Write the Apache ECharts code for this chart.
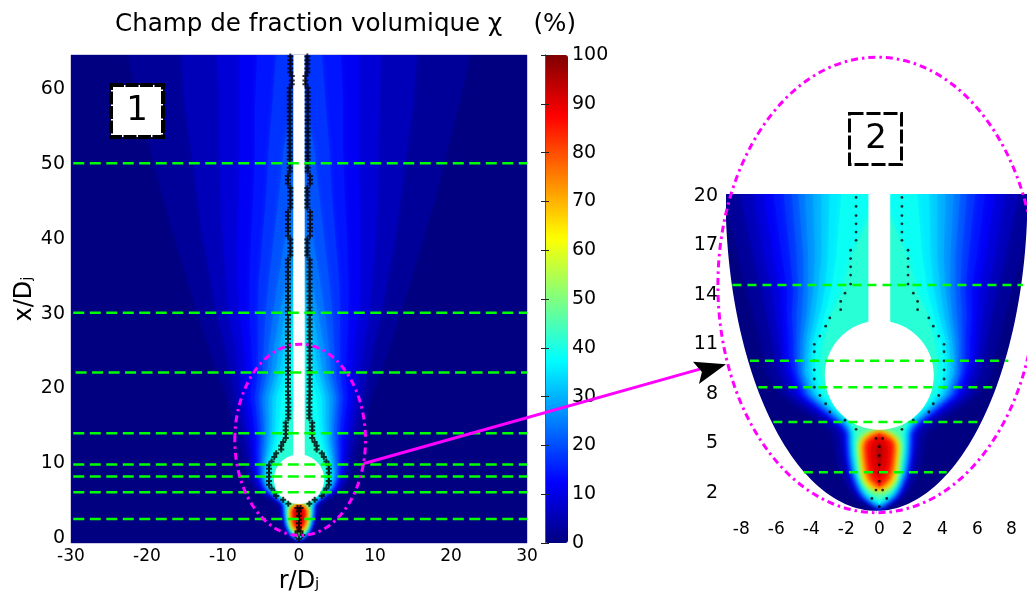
<!DOCTYPE html>
<html><head><meta charset="utf-8">
<style>html,body{margin:0;padding:0;background:#fff}#c{width:1027px;height:594px}</style>
<script src="https://cdn.jsdelivr.net/npm/echarts@6/dist/echarts.min.js"></script>
</head><body><div id="c"></div>
<script>
// ---- colour scale (jet) and colour-bar ticks
var jetStops = ['#000080','#0000ff','#0080ff','#00ffff','#80ff80','#ffff00','#ff8000','#ff0000','#800000'];
// ---- tick labels
var leftXTicks = [-30,-20,-10,0,10,20,30];
var leftYTicks = [0,10,20,30,40,50,60];
var rightXLabels = ['-8','-6','-4','-2','0','2','4','6','8'];
var rightXAt = [-8.36,-6.24,-4.12,-2.0,0,1.7,3.82,5.94,8.0];
var rightYLabels = ['2','5','8','11','14','17','20'];
var rightYAt = [0.69,3.69,6.69,9.69,12.69,15.69,18.69];
// ---- iso-contour half widths of the field chi
var plumeLevels = [2,5,8,11,14,17,20,23,26,29,32,35,38,41,44];
var plumeRows = [-0.7,0,0.3,0.7,1.2,2,3,3.8,4.4,5,5.6,6.7,8,9,10,11.5,13,15,18.8,22,26,30,34,40,46,52,58,64.8];
var plumeWidths = [
 [0,0,0,0,0,0,0,0,0,0,0,0,0,0,0],
 [.6,.3,.1,0,0,0,0,0,0,0,0,0,0,0,0],
 [1.3,1,.85,.75,.65,.6,.55,.5,.45,.4,.3,.2,.1,0,0],
 [1.7,1.4,1.25,1.15,1.1,1.05,1,.95,.9,.85,.8,.75,.7,.65,.55],
 [2,1.7,1.5,1.4,1.35,1.3,1.25,1.2,1.15,1.1,1.05,1,.95,.9,.85],
 [2.4,2,1.8,1.7,1.65,1.6,1.55,1.5,1.45,1.4,1.35,1.3,1.25,1.2,1.15],
 [2.6,2.2,2,1.9,1.8,1.75,1.7,1.65,1.6,1.55,1.5,1.45,1.4,1.35,1.3],
 [2.7,2.3,2.1,2,1.9,1.8,1.75,1.7,1.65,1.6,1.55,1.5,1.45,1.4,1.35],
 [2.9,2.4,2.1,2,1.9,1.8,1.75,1.7,1.65,1.6,1.55,1.5,1.45,1.4,1.3],
 [3.6,3,2.7,2.5,2.4,2.3,2.2,2.1,2,1.95,1.9,1.8,1.7,1.6,1.5],
 [4.5,4,3.6,3.4,3.2,3.1,3,2.9,2.8,2.7,2.6,2.5,2.3,2.2,2],
 [6,5.5,5.1,4.9,4.7,4.5,4.4,4.3,4.1,4,3.9,3.7,3.5,3.2,0],
 [6.8,6.1,5.7,5.4,5.2,5,4.9,4.7,4.6,4.5,4.3,4.1,3.9,3.5,0],
 [7,6.3,5.9,5.7,5.5,5.2,5,4.8,4.6,4.5,4.3,4.1,3.9,3.5,0],
 [7.2,6.5,6.1,5.8,5.5,5.2,5,4.8,4.6,4.4,4.2,4,3.7,3.3,0],
 [7.6,6.8,6.3,5.9,5.6,5.3,5,4.7,4.4,4.2,3.9,3.6,3.3,2.9,0],
 [8,7.1,6.5,6,5.6,5.2,4.9,4.6,4.3,4,3.7,3.3,2.9,2.2,0],
 [8.5,7.6,7,6.4,5.9,5.4,5,4.6,4.3,3.9,3.5,3.1,2.6,1.7,0],
 [9.4,8.4,7.6,7,6.4,5.8,5.3,4.9,4.5,4,3.5,3,2.3,0,0],
 [10.6,9,7.9,6.9,6.1,5.4,4.8,4.2,3.7,3.1,2.6,2,1.3,0,0],
 [12,9.8,8.5,7.3,6.3,5.4,4.6,3.9,3.2,2.5,1.9,1.3,.7,0,0],
 [13.3,10.8,9.2,7.8,6.5,5.4,4.4,3.4,2.5,1.8,1.1,.7,0,0,0],
 [14.5,11.5,9.5,8,6.5,5.3,4,2.8,1.7,1,.5,0,0,0,0],
 [16.3,12.6,10,8,6.3,4.8,3.3,1.8,.8,0,0,0,0,0,0],
 [18,13.4,10.3,7.9,6,4.3,2.6,1,0,0,0,0,0,0,0],
 [19.5,14.2,10.4,7.8,5.8,4,2,.5,0,0,0,0,0,0,0],
 [21,15,10.5,7.8,5.8,3.5,.9,0,0,0,0,0,0,0,0],
 [22.5,15.5,10.7,7.8,5.5,3,.5,0,0,0,0,0,0,0,0]
];
var coreLevels = [48,52,56,60,64,68,72,76,80,84,88,92];
var coreRows = [0.9,1.1,1.5,2,2.5,3,3.5,3.8,4.1,4.3,4.45];
var coreWidths = [
 [.3,.1,0,0,0,0,0,0,0,0,0,0],
 [.75,.65,.55,.45,.3,.15,0,0,0,0,0,0],
 [.95,.9,.85,.8,.72,.65,.6,.5,.4,.2,0,0],
 [1.05,1,.95,.9,.85,.8,.72,.68,.6,.52,.3,0],
 [1.1,1.05,1,.95,.9,.85,.8,.75,.7,.62,.45,.1],
 [1.15,1.1,1.05,1,.95,.9,.85,.8,.75,.68,.5,.2],
 [1.2,1.15,1.1,1.05,1,.95,.9,.85,.8,.72,.5,.2],
 [1.15,1.1,1.05,1,.95,.9,.85,.8,.72,.6,.35,0],
 [.95,.85,.8,.7,.65,.55,.45,.35,.15,0,0,0],
 [.7,.5,.2,0,0,0,0,0,0,0,0,0],
 [0,0,0,0,0,0,0,0,0,0,0,0]
];
// ---- measured points (black marks): height, left radius, right radius
var lowDotX = [18.6,18.06,17.5,17,16.5,16,15.4,14.9,14.4,13.9,13.35,12.8,12.3,11.8,11.3,10.8,10.2,9.7,9.25,8.7,8.15,7.6,7.1,6.6,6.1,5.6,5.1,4.55];
var lowDotL = [-1.41,-1.41,-1.41,-1.41,-1.41,-1.41,-1.74,-1.74,-1.74,-1.74,-1.74,-2.08,-2.34,-2.34,-3,-3.25,-3.6,-3.94,-3.94,-3.94,-3.94,-3.94,-3.94,-3.6,-3.25,-3,-2.08,-1.41];
var lowDotR = [1.37,1.37,1.37,1.37,1.37,1.37,1.74,1.74,1.74,1.74,1.74,2.06,2.32,2.32,3,3.27,3.6,3.92,3.92,3.92,3.92,3.92,3.92,3.6,3.27,3,2.06,1.37];
var coreDots = [[-.2,4],[.2,4],[0,3.5],[0,2.95],[0,2.4],[0,1.95],[0,1.4],[-.2,.87],[.2,.87],[-.45,.36],[.45,.36],[0,-.14]];
var highDotX = [19.1,19.6,20.2,20.7,21.2,21.8,22.3,22.8,23.4,23.9,24.4,25,25.5,26,26.6,27.1,27.6,28.2,28.7,29.2,29.8,30.3,30.8,31.4,31.9,32.4,33,33.5,34,34.6,35.1,35.6,36.2,36.7,37.2,37.8,38.3,38.8,39.4,39.9,40.4,41,41.5,42,42.6,43.1,43.6,44.2,44.7,45.2,45.8,46.3,46.8,47.4,47.9,48.4,49,49.5,50,50.6,51.1,51.6,52.2,52.7,53.2,53.8,54.3,54.8,55.4,55.9,56.4,57,57.5,58,58.6,59.1,59.6,60.2,60.7,61.2,61.8,62.3,62.8,63.4,63.9,64.4];
var highDotL = [-1.45,-1.45,-1.45,-1.45,-1.45,-1.45,-1.45,-1.45,-1.45,-1.45,-1.45,-1.45,-1.45,-1.45,-1.45,-1.45,-1.45,-1.45,-1.45,-1.45,-1.45,-1.45,-1.45,-1.45,-1.45,-1.45,-1.45,-1.45,-1.45,-1.45,-1.45,-1.45,-1.45,-1.45,-1.45,-1.14,-1.14,-1.14,-1.14,-1.14,-1.45,-1.45,-1.45,-1.45,-1.45,-1.45,-1.45,-1.14,-1.14,-1.14,-1.14,-1.14,-1.14,-1.45,-1.45,-1.45,-1.22,-1.22,-1.22,-1.22,-1.22,-1.22,-1.22,-1.22,-1.22,-1.22,-1.22,-1.22,-1.22,-1.22,-1.22,-1.22,-1.22,-1.22,-1.22,-1.22,-1.22,-1.22,-.95,-.95,-.95,-1.14,-1.14,-1.14,-1.14,-1.14];
var highDotR = [1.4,1.4,1.4,1.4,1.4,1.4,1.4,1.4,1.4,1.4,1.4,1.4,1.4,1.4,1.4,1.4,1.4,1.4,1.4,1.4,1.4,1.4,1.4,1.4,1.4,1.4,1.4,1.4,1.4,1.4,1.4,1.4,1.4,1.4,1.4,1.1,1.1,1.1,1.1,1.1,1.45,1.45,1.45,1.45,1.45,1.45,1.45,1.1,1.1,1.1,1.1,1.1,1.1,1.45,1.45,1.45,1.14,1.14,1.14,1.14,1.14,1.14,1.14,1.14,1.14,1.14,1.14,1.14,1.14,1.14,1.14,1.14,1.14,1.14,1.14,1.14,1.14,1.14,.85,.85,.85,1.1,1.1,1.1,1.1,1.1];
// ---- dashed stations: height, from r, to r
var leftStations = [[50.1,-29.7,30],[30.1,-29.7,30],[22.1,-29.4,30],[14,-29.7,30],[9.8,-29.7,30],[8.2,-29.7,30],[6.1,-29.7,30],[2.5,-29.7,30]];
var rightStations = [[13.3,-8.9,8.7],[8.7,-7.84,7.82],[7.1,-7.33,7.21],[5,-6.42,6.2],[1.95,-4.57,4.08]];

var labelFont = 'DejaVu Sans';
var leftXRange = [-30,30], leftYRange = [-0.7,64.6];
var rightXRange = [-9.29,8.93], rightYRange = [-0.52,18.81];

function iso(rows, widths, j){
  var right = [], left = [];
  for (var i=0;i<rows.length;i++){ right.push([widths[i][j],rows[i]]); left.unshift([-widths[i][j],rows[i]]); }
  return right.concat(left);
}
var bandList = [{value:[0,0,0], pts:[[-40,-5],[40,-5],[40,70],[-40,70]]}];
plumeLevels.forEach(function(l,j){ bandList.push({value:[0,0,l+0.5], pts:iso(plumeRows,plumeWidths,j)}); });
coreLevels.forEach(function(l,j){ bandList.push({value:[0,0,l+2], pts:iso(coreRows,coreWidths,j)}); });

function bandSeries(g,blur){
  return {type:'custom',xAxisIndex:g,yAxisIndex:g,clip:true,z:2,silent:true,animation:false,
    data:bandList.map(function(b){return {value:b.value};}),
    encode:{x:0,y:1},
    renderItem:function(p,api){
      var b=bandList[p.dataIndex], col=api.visual('color');
      return {type:'polygon',shape:{points:b.pts.map(function(q){return api.coord(q);})},
        style:{fill:col,shadowBlur:blur,shadowColor:col}};
    }};
}
function holeSeries(g,strut){
  return {type:'custom',xAxisIndex:g,yAxisIndex:g,clip:true,z:3,silent:true,animation:false,
    data:[[0,7.83]],encode:{x:0,y:1},
    renderItem:function(p,api){
      var c=api.coord([0,7.83]), e=api.coord([3.3,7.83+3.3]);
      return {type:'group',children:[
        {type:'ellipse',shape:{cx:c[0],cy:c[1],rx:e[0]-c[0],ry:c[1]-e[1]},style:{fill:'#fff'}},
        {type:'polygon',shape:{points:[[-strut,7.83],[strut,7.83],[strut,70],[-strut,70]].map(function(q){return api.coord(q);})},style:{fill:'#fff'}}
      ]};
    }};
}
function stationSeries(g,list,w,dash){
  return {type:'custom',xAxisIndex:g,yAxisIndex:g,clip:false,z:6,silent:true,animation:false,
    data:list,encode:{x:1,y:0},
    renderItem:function(p,api){
      var a=api.coord([api.value(1),api.value(0)]), b=api.coord([api.value(2),api.value(0)]);
      return {type:'line',shape:{x1:a[0],y1:a[1],x2:b[0],y2:b[1]},style:{stroke:'#00ff00',lineWidth:w,lineDash:dash}};
    }};
}
function ellipseSeries(g,cx,cy,a,b,w,dash){
  return {type:'custom',xAxisIndex:g,yAxisIndex:g,clip:false,z:7,silent:true,animation:false,
    data:[[cx,cy]],encode:{x:0,y:1},
    renderItem:function(p,api){
      var c=api.coord([cx,cy]), e=api.coord([cx+a,cy+b]);
      return {type:'ellipse',shape:{cx:c[0],cy:c[1],rx:e[0]-c[0],ry:c[1]-e[1]},
        style:{fill:'none',stroke:'#ff00ff',lineWidth:w,lineDash:dash}};
    }};
}
var leftDots=[], rightDots=[];
lowDotX.forEach(function(x,i){ leftDots.push([lowDotL[i],x],[lowDotR[i],x]); rightDots.push([lowDotL[i],x],[lowDotR[i],x]); });
coreDots.forEach(function(d){ leftDots.push(d); rightDots.push(d); });
highDotX.forEach(function(x,i){ leftDots.push([highDotL[i],x],[highDotR[i],x]); });

// white outside the half ellipse of panel 2
var domain = {cx:-0.17, top:18.81, a:9.15, b:19.2};
function outerMask(api,side){
  var pts=[];
  for (var t=0;t<=60;t++){
    var th=t/60*Math.PI/2;
    pts.push([domain.cx+side*domain.a*Math.cos(th), domain.top-domain.b*Math.sin(th)]);
  }
  pts.push([domain.cx,-1],[side*12,-1],[side*12,domain.top]);
  return {type:'polygon',shape:{points:pts.map(function(q){return api.coord(q);})},style:{fill:'#fff'}};
}
var barTicks = {show:true,inside:true,length:4,lineStyle:{color:'#222',width:1}};

var option = {
  animation:false,
  backgroundColor:'#fff',
  textStyle:{fontFamily:labelFont},
  title:{text:'Champ de fraction volumique \u03c7    (%)',left:110,top:7,
    textStyle:{fontFamily:labelFont,fontSize:24.6,fontWeight:'normal',color:'#000'}},
  visualMap:{type:'continuous',min:0,max:100,dimension:2,seriesIndex:[0,5],calculable:false,
    left:545,top:55,itemWidth:23,itemHeight:488,padding:0,text:null,showLabel:false,
    hoverLink:false,inRange:{color:jetStops},textStyle:{color:'transparent'}},
  grid:[
    {left:71,top:55,width:456,height:488,outerBoundsMode:'none',show:true,borderColor:'#9a9ac8',borderWidth:1},
    {left:726,top:194,width:300.7,height:319,outerBoundsMode:'none',show:false},
    {left:545,top:55,width:23,height:488,outerBoundsMode:'none',show:false}
  ],
  xAxis:[
    {type:'value',gridIndex:0,min:leftXRange[0],max:leftXRange[1],interval:10,
      name:'r/D\u2C7C',nameLocation:'middle',nameGap:27,nameTextStyle:{fontSize:24,color:'#000',fontFamily:labelFont},
      axisLine:{show:false},axisTick:{show:false},splitLine:{show:false},
      axisLabel:{fontSize:17,color:'#000',margin:5,fontFamily:labelFont,hideOverlap:false}},
    {type:'value',gridIndex:1,min:rightXRange[0],max:rightXRange[1],
      axisLine:{show:false},axisTick:{show:false},splitLine:{show:false},
      axisLabel:{fontSize:17,color:'#000',margin:8,fontFamily:labelFont,showMinLabel:true,showMaxLabel:true,
        customValues:rightXAt,
        formatter:function(v){ return rightXLabels[rightXAt.indexOf(v)]; }}},
    {type:'value',gridIndex:2,min:0,max:1,show:false}
  ],
  yAxis:[
    {type:'value',gridIndex:0,min:leftYRange[0],max:leftYRange[1],
      name:'x/D\u2C7C',nameLocation:'middle',nameGap:34,nameRotate:90,nameTextStyle:{fontSize:24,color:'#000',fontFamily:labelFont},
      axisLine:{show:false},axisTick:{show:false},splitLine:{show:false},
      axisLabel:{fontSize:19,color:'#000',margin:6,fontFamily:labelFont,customValues:leftYTicks,
        formatter:function(v){return String(v);}}},
    {type:'value',gridIndex:1,min:rightYRange[0],max:rightYRange[1],
      axisLine:{show:false},axisTick:{show:false},splitLine:{show:false},
      axisLabel:{fontSize:19,color:'#000',margin:8,fontFamily:labelFont,customValues:rightYAt,
        formatter:function(v){ return rightYLabels[rightYAt.indexOf(v)]; }}},
    {type:'value',gridIndex:2,min:0,max:100,interval:10,position:'right',z:10,
      axisLine:{show:true,lineStyle:{color:'#555',width:1}},
      axisTick:barTicks,splitLine:{show:false},
      axisLabel:{fontSize:19,color:'#000',margin:4,fontFamily:labelFont,showMinLabel:true,showMaxLabel:true}},
    {type:'value',gridIndex:2,min:0,max:100,interval:10,position:'left',z:10,
      axisLine:{show:true,lineStyle:{color:'#555',width:1}},
      axisTick:barTicks,splitLine:{show:false},axisLabel:{show:false}}
  ],
  series:[
    bandSeries(0,5),
    holeSeries(0,0.75),
    stationSeries(0,leftStations,2.5,[11,5.5]),
    {type:'scatter',xAxisIndex:0,yAxisIndex:0,z:5,silent:true,animation:false,data:leftDots,
      symbol:'path://M2 0h2v2h2v2h-2v2h-2v-2h-2v-2h2z',symbolSize:6,itemStyle:{color:'#000'}},
    ellipseSeries(0,0.15,13.1,8.6,12.8,3,[7,4,2.5,4]),
    bandSeries(1,7),
    holeSeries(1,0.66),
    {type:'custom',xAxisIndex:1,yAxisIndex:1,clip:true,z:4,silent:true,animation:false,
      data:[[0,0]],encode:{x:0,y:1},
      renderItem:function(p,api){ return {type:'group',children:[outerMask(api,-1),outerMask(api,1)]}; }},
    stationSeries(1,rightStations,2.5,[9,6]),
    {type:'scatter',xAxisIndex:1,yAxisIndex:1,z:5,silent:true,animation:false,data:rightDots,
      symbol:'circle',symbolSize:2.8,itemStyle:{color:'#000'}},
    ellipseSeries(1,-0.14,13.3,9.64,13.8,3,[7,4,2.5,4]),
    // zoom arrow, from panel 1 to panel 2 (in panel 2 coordinates)
    {type:'custom',xAxisIndex:1,yAxisIndex:1,clip:false,z:20,silent:true,animation:false,
      data:[[0,0]],encode:{x:0,y:1},
      renderItem:function(p,api){
        var a=api.coord([-31.23,2.48]), b=api.coord([-10.87,8.2]);
        return {type:'group',children:[
          {type:'line',shape:{x1:a[0],y1:a[1],x2:b[0],y2:b[1]},style:{stroke:'#ff00ff',lineWidth:3}},
          {type:'polygon',shape:{points:[[-9.29,8.5],[-11.29,8.64],[-10.75,8.03],[-10.93,7.3]].map(function(q){return api.coord(q);})},style:{fill:'#000'}}
        ]};
      }}
  ],
  graphic:[
    {type:'rect',z:30,shape:{x:111,y:85,width:52,height:52},style:{fill:'#fff',stroke:'#000',lineWidth:4,lineDash:[13,1.5]}},
    {type:'text',z:31,style:{x:137,y:111,text:'1',fill:'#000',font:'34px "DejaVu Sans"',textAlign:'center',textVerticalAlign:'middle'}},
    {type:'rect',z:30,shape:{x:849.5,y:113.5,width:52,height:51},style:{fill:'#fff',stroke:'#000',lineWidth:3,lineDash:[14,3]}},
    {type:'text',z:31,style:{x:876,y:139,text:'2',fill:'#000',font:'34px "DejaVu Sans"',textAlign:'center',textVerticalAlign:'middle'}}
  ]
};
var chart = echarts.init(document.getElementById('c'),null,{renderer:'canvas'});
chart.setOption(option);
</script></body></html>
